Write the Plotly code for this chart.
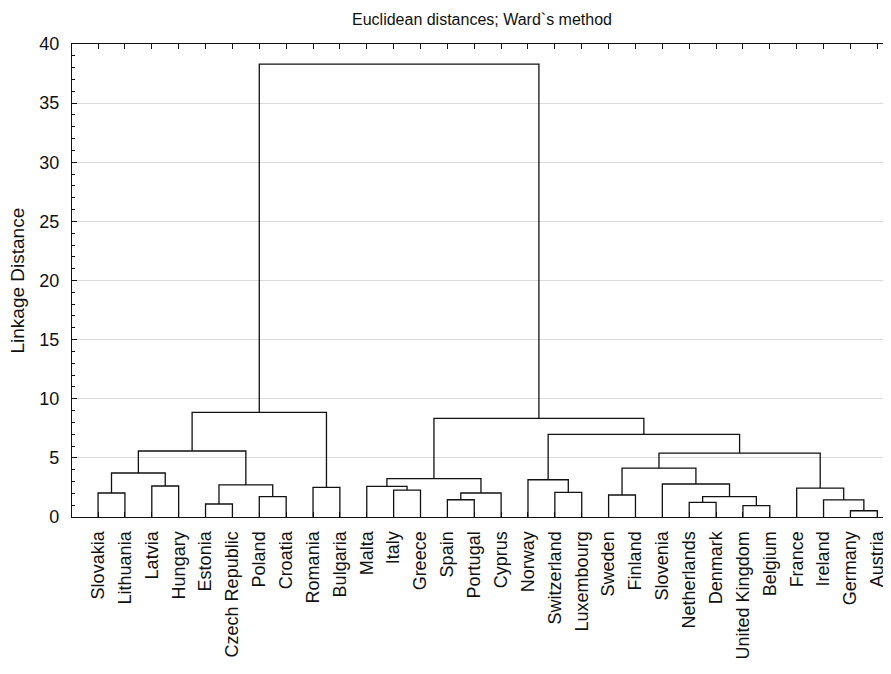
import plotly.graph_objects as go

# Leaf labels in dendrogram order
labels = ["Slovakia", "Lithuania", "Latvia", "Hungary", "Estonia", "Czech Republic",
          "Poland", "Croatia", "Romania", "Bulgaria", "Malta", "Italy", "Greece",
          "Spain", "Portugal", "Cyprus", "Norway", "Switzerland", "Luxembourg",
          "Sweden", "Finland", "Slovenia", "Netherlands", "Denmark", "United Kingdom",
          "Belgium", "France", "Ireland", "Germany", "Austria"]

# Linkage (scipy-style ids: leaves 0..29, merge k gets id 30+k)
merge_left = [28, 24, 4, 22, 27, 13, 6, 33, 19, 0, 35, 17, 11, 26, 8, 10, 2, 32,
              21, 16, 45, 39, 38, 52, 51, 49, 50, 54, 57]
merge_right = [29, 25, 5, 23, 30, 14, 7, 31, 20, 1, 15, 18, 12, 34, 9, 42, 3, 36,
               37, 41, 40, 46, 48, 43, 47, 53, 55, 44, 56]
merge_height = [0.53, 0.96, 1.10, 1.23, 1.44, 1.46, 1.72, 1.72, 1.86, 2.03, 2.03,
                2.08, 2.28, 2.45, 2.50, 2.59, 2.62, 2.71, 2.79, 3.15, 3.24, 3.72,
                4.14, 5.41, 5.58, 6.98, 8.34, 8.85, 38.3]

n = len(labels)
pos = {i: float(i) for i in range(n)}
hgt = {i: 0.0 for i in range(n)}
xs, ys = [], []
for k, (l, r, h) in enumerate(zip(merge_left, merge_right, merge_height)):
    xs += [pos[l], pos[l], pos[r], pos[r], None]
    ys += [hgt[l], h, h, hgt[r], None]
    pos[n + k] = (pos[l] + pos[r]) / 2
    hgt[n + k] = h

fig = go.Figure()
fig.add_trace(go.Scatter(x=xs, y=ys, mode="lines",
                         line=dict(color="#111111", width=1.3),
                         hoverinfo="skip", showlegend=False))

# The page body has an 8px default margin; size the figure to compensate.
W, H = 883, 666
ml, mt, mb, mr = 64, 36, 157, 0
plot_w = W - ml - mr
plot_h = H - mt - mb

font_family = "Liberation Sans, Arial, sans-serif"
fig.update_layout(
    width=W, height=H,
    margin=dict(l=ml, r=mr, t=mt, b=mb, autoexpand=False),
    paper_bgcolor="white", plot_bgcolor="white",
    font=dict(family=font_family, color="#111111"),
    xaxis=dict(range=[-0.97, 29.51], tickmode="array", tickvals=list(range(n)),
               ticktext=labels, tickangle=-90, ticks="inside", ticklen=5,
               tickcolor="#111111", showline=True, linecolor="#111111", linewidth=1.3,
               mirror="ticks", showgrid=False, zeroline=False, automargin=False,
               tickfont=dict(size=18), ticklabelstandoff=6),
    yaxis=dict(range=[0, 40], dtick=5, ticks="inside", ticklen=5, tickcolor="#111111",
               showline=True, linecolor="#111111", linewidth=1.3, mirror=False,
               showgrid=True, gridcolor="#d9d9d9", gridwidth=1, zeroline=False,
               automargin=False, tickfont=dict(size=18), ticklabelstandoff=8,
               minor=dict(dtick=1, ticks="inside", ticklen=3, tickcolor="#111111",
                          showgrid=False)),
    annotations=[
        dict(text="Linkage Distance", xref="paper", yref="paper",
             x=-(72 - 17) / plot_w, y=0.5, xanchor="center", yanchor="middle",
             textangle=-90, showarrow=False, font=dict(size=19, color="#111111")),
        dict(text="Euclidean distances; Ward`s method", xref="paper", yref="paper",
             x=0.5, y=1 + (44 - 19) / plot_h, xanchor="center", yanchor="middle",
             showarrow=False, font=dict(size=16, color="#111111")),
    ],
)

fig.write_html("out.html")
